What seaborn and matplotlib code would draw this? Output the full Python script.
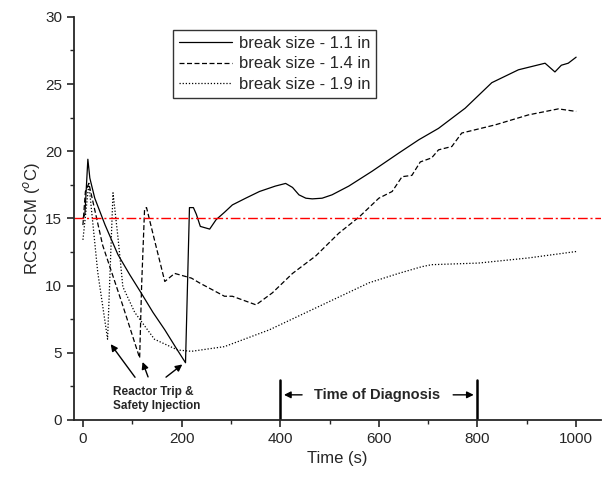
import numpy as np
import pandas as pd
import matplotlib
matplotlib.use("Agg")
import matplotlib.pyplot as plt
import seaborn as sns

# break size - 1.1 in
t_11 = [0, 4, 10, 14, 24, 45, 71, 95, 118, 142, 166, 188, 208, 212, 216, 224, 230, 238,
        257, 270, 287, 303, 330, 358, 390, 411, 425, 438, 452, 465, 485, 505, 539, 586,
        640, 681, 721, 775, 829, 883, 937, 957, 970, 984, 1000]
scm_11 = [15.0, 15.3, 19.4, 18.0, 16.5, 14.5, 12.3, 10.8, 9.45, 8.0, 6.7, 5.4, 4.25, 10.0,
          15.8, 15.8, 15.3, 14.4, 14.2, 14.9, 15.45, 16.0, 16.5, 17.0, 17.4, 17.6, 17.3,
          16.75, 16.5, 16.45, 16.5, 16.75, 17.4, 18.5, 19.85, 20.85, 21.7, 23.2, 25.1,
          26.06, 26.55, 25.9, 26.4, 26.55, 27.0]

# break size - 1.4 in
t_14 = [0, 5, 12, 40, 80, 115, 119, 125, 129, 145, 166, 186, 220, 236, 287, 303, 351,
        384, 425, 472, 519, 560, 600, 627, 647, 667, 684, 707, 721, 748, 768, 836,
        903, 964, 1000]
scm_14 = [14.5, 17.0, 17.6, 13.0, 8.6, 4.6, 10.0, 15.7, 15.8, 13.4, 10.3, 10.9, 10.55,
          10.2, 9.2, 9.2, 8.56, 9.45, 10.9, 12.2, 13.9, 15.1, 16.5, 17.0, 18.1, 18.2,
          19.2, 19.5, 20.1, 20.35, 21.35, 21.96, 22.7, 23.15, 22.96]

# break size - 1.9 in
t_19 = [0, 6, 12, 30, 50, 56, 61, 71, 81, 105, 145, 192, 220, 287, 378, 505, 580, 640,
        687, 707, 802, 903, 1000]
scm_19 = [13.4, 15.5, 17.6, 11.0, 6.0, 12.0, 16.9, 13.6, 9.9, 8.0, 6.0, 5.2, 5.1, 5.45,
          6.7, 8.9, 10.2, 10.9, 11.4, 11.55, 11.67, 12.05, 12.53]

labels = ["break size - 1.1 in", "break size - 1.4 in", "break size - 1.9 in"]
limit_scm = 15.0
diag_start, diag_end = 400, 800

df = pd.concat([
    pd.DataFrame({"time": t_11, "scm": scm_11, "case": labels[0]}),
    pd.DataFrame({"time": t_14, "scm": scm_14, "case": labels[1]}),
    pd.DataFrame({"time": t_19, "scm": scm_19, "case": labels[2]}),
])

sns.set_style("ticks")
plt.rcParams["font.family"] = ["Liberation Sans", "DejaVu Sans"]

fig = plt.figure(figsize=(6.02, 4.82), dpi=100)
ax = fig.add_axes([0.123, 0.129, 0.875, 0.836])

styles = ["-", (0, (4, 2)), (0, (1, 1.5))]
for lab, ls in zip(labels, styles):
    sub = df[df["case"] == lab]
    sns.lineplot(data=sub, x="time", y="scm", ax=ax, color="black", lw=0.9,
                 linestyle=ls, label=lab, sort=False, estimator=None)

ax.axhline(limit_scm, color="red", lw=1.0, linestyle=(0, (7, 2, 1.5, 2)))

ax.set_xlim(-18, 1050)
ax.set_ylim(0, 30)
ax.set_xticks([0, 200, 400, 600, 800, 1000])
ax.set_xticks(np.arange(100, 1001, 200), minor=True)
ax.set_yticks(np.arange(0, 31, 5))
ax.set_yticks(np.arange(2.5, 30, 5), minor=True)
ax.tick_params(axis="both", which="major", length=5, width=1.2, labelsize=11, direction="out")
ax.tick_params(axis="both", which="minor", length=3, width=1.0, direction="out")
sns.despine(ax=ax)
for s in ["left", "bottom"]:
    ax.spines[s].set_linewidth(1.3)

ax.set_xlabel("Time (s)", fontsize=12, labelpad=4)
ax.set_ylabel("RCS SCM ($^o$C)", fontsize=12, labelpad=2)

leg = ax.legend(loc="upper left", bbox_to_anchor=(0.188, 0.967), fontsize=12,
                frameon=True, fancybox=False, edgecolor="black", handlelength=3.2,
                handletextpad=0.4, borderpad=0.35, labelspacing=0.32, borderaxespad=0)
leg.get_frame().set_linewidth(1.0)

# reactor trip annotations
arrow_kw = dict(arrowstyle="-|>", color="black", lw=1.0, mutation_scale=10)
for tail, head in [((109, 3.0), (53, 5.8)), ((134, 3.0), (119, 4.5)), ((164, 3.05), (206, 4.25))]:
    ax.annotate("", xy=head, xytext=tail, arrowprops=arrow_kw)
ax.text(60, 2.5, "Reactor Trip &\nSafety Injection", fontsize=8.5, fontweight="bold",
        va="top", ha="left", linespacing=1.15)

# time of diagnosis window
for x in [diag_start, diag_end]:
    ax.plot([x, x], [0, 3.0], color="black", lw=1.8)
ax.annotate("", xy=(diag_start + 2, 1.86), xytext=(450, 1.86), arrowprops=arrow_kw)
ax.annotate("", xy=(diag_end - 2, 1.86), xytext=(745, 1.86), arrowprops=arrow_kw)
ax.text(597, 1.86, "Time of Diagnosis", fontsize=10.5, fontweight="bold",
        ha="center", va="center")

fig.savefig("out.png", dpi=100)
